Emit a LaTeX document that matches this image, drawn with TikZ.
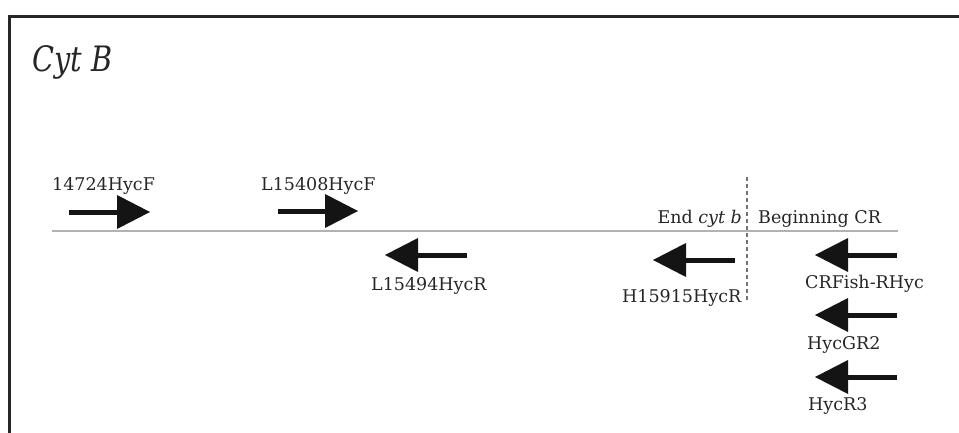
\documentclass[tikz,border=0pt]{standalone}
\usepackage{fontspec}
\usepackage{graphicx}
\setmainfont{DejaVu Serif}
\usetikzlibrary{arrows.meta}
\tikzset{
  lbl/.style={inner sep=0pt, font=\fontsize{17.5}{20}\selectfont, text=black!85},
  primer/.style={line width=5pt, draw=black!92,
    -{Triangle[length=33pt,width=34pt,line width=0pt]}},
  frame/.style={line width=3pt, draw=black!85},
  seq/.style={line width=2pt, draw=black!30},
  border/.style={line width=1.2pt, draw=black!55, dash pattern=on 4pt off 3pt}
}
\begin{document}
\begin{tikzpicture}[x=1pt,y=-1pt]
\useasboundingbox (0,0) rectangle (959,433);
\fill[white] (0,0) rectangle (959,433);
% frame
\coordinate (fl) at (9,433);
\coordinate (fc) at (9,17);
\coordinate (fr) at (959,17);
\draw[frame] (fl) -- (fc) -- (fr);
% title
\node[anchor=base west, inner sep=0pt, text=black!85] (title) at (32,72)
  {\scalebox{0.82}[1]{\fontsize{35}{40}\selectfont\itshape Cyt B}};
% sequence line and border
\coordinate (s0) at (52,231);
\coordinate (s1) at (898,231);
\draw[seq] (s0) -- (s1);
\coordinate (d0) at (747,177);
\coordinate (d1) at (747,300);
\draw[border] (d0) -- (d1);
\node[lbl, anchor=base east] (endcyt) at (742,223) {End \textit{cyt b}};
\node[lbl, anchor=base west] (begcr) at (758,223) {Beginning CR};
% forward primers
\coordinate (f1a) at (69,212);  \coordinate (f1b) at (150,212);
\coordinate (f2a) at (278,211); \coordinate (f2b) at (358,211);
\draw[primer] (f1a) -- (f1b);
\draw[primer] (f2a) -- (f2b);
\node[lbl, anchor=base west] (t1) at (52,190) {14724HycF};
\node[lbl, anchor=base west] (t2) at (261,190) {L15408HycF};
% reverse primers
\coordinate (r1a) at (467,255); \coordinate (r1b) at (385,255);
\coordinate (r2a) at (735,260); \coordinate (r2b) at (653,260);
\coordinate (r3a) at (897,255); \coordinate (r3b) at (815,255);
\coordinate (r4a) at (897,315); \coordinate (r4b) at (815,315);
\coordinate (r5a) at (897,377); \coordinate (r5b) at (815,377);
\draw[primer] (r1a) -- (r1b);
\draw[primer] (r2a) -- (r2b);
\draw[primer] (r3a) -- (r3b);
\draw[primer] (r4a) -- (r4b);
\draw[primer] (r5a) -- (r5b);
\node[lbl, anchor=base west] (t3) at (371,290) {L15494HycR};
\node[lbl, anchor=base west] (t4) at (622,302) {H15915HycR};
\node[lbl, anchor=base west] (t5) at (805,288) {CRFish-RHyc};
\node[lbl, anchor=base west] (t6) at (807,349) {HycGR2};
\node[lbl, anchor=base west] (t7) at (808,410) {HycR3};
\end{tikzpicture}
\end{document}
